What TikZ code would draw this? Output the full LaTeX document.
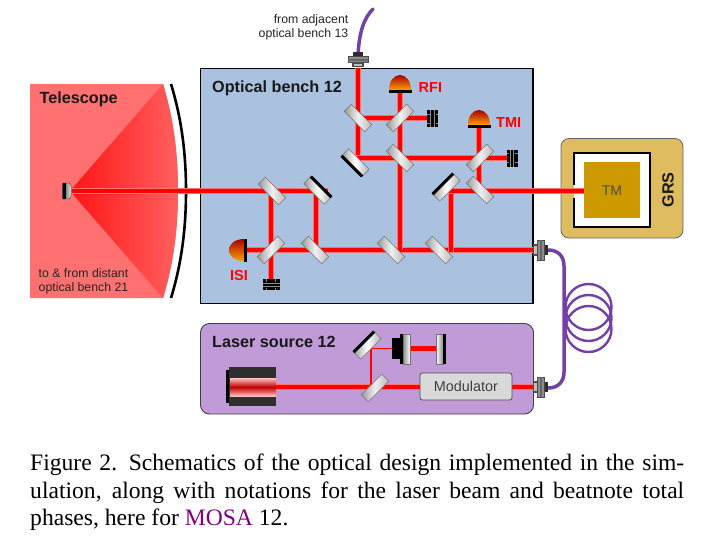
\documentclass[tikz,border=0pt]{standalone}
\usepackage{fontspec}
\setmainfont{Liberation Serif}
\setsansfont{Liberation Sans}
\definecolor{benchblue}{HTML}{ABC1E0}
\definecolor{laserpurple}{HTML}{C19BD8}
\definecolor{grsgold}{HTML}{E0BC60}
\definecolor{tmgold}{HTML}{CC9900}
\definecolor{fibre}{HTML}{7340A8}
\definecolor{telered}{HTML}{FF7070}
\definecolor{mosa}{HTML}{800080}
\definecolor{beamred}{HTML}{FF0000}
\tikzset{
  x=1pt,y=-1pt,
  beam/.style={preaction={draw=beamred!55!white,line width=5.2pt},draw=beamred,line width=4.2pt},
  thinbeam/.style={draw=beamred,line width=1.5pt},
  fib/.style={draw=fibre,line width=3.5pt,line cap=round},
  coil/.style={draw=fibre,line width=2.4pt},
  bench/.style={draw=black,line width=1.4pt},
  lbl/.style={font=\sffamily\fontsize{16.2}{19}\selectfont\bfseries,inner sep=0pt,text=black!90},
  redlbl/.style={font=\sffamily\fontsize{14.5}{17}\selectfont\bfseries,text=beamred,inner sep=0pt},
  smalllbl/.style={font=\sffamily\fontsize{12.3}{14}\selectfont,inner sep=0pt,text=black!85},
  capline/.style={font=\fontsize{23.6}{27}\selectfont,inner sep=0pt,anchor=base west,text=black},
  pics/bs/.style={code={
    \path[left color=black!40,right color=black!28,middle color=black!6,draw=black!55,line width=.5pt]
      (-14.5,-5) rectangle (14.5,5);
  }},
  pics/bsm/.style={code={
    \path[left color=black!40,right color=black!30,middle color=white,draw=black!55,line width=.5pt]
      (-14.5,-5) rectangle (14.5,5.5);
    \fill[black] (-14.5,-6) rectangle (14.5,-3);
  }},
  pics/diode/.style={code={
    \path[top color=red!65!black,bottom color=orange!75!yellow]
      (-11,0) .. controls (-11,-9) and (-6,-15) .. (0,-15) .. controls (6,-15) and (11,-9) .. (11,0) -- cycle;
    \fill[black] (-11.5,0) rectangle (11.5,2.6);
  }},
  pics/dump/.style={code={
    \fill[black] (-5.5,-8.5) rectangle (5.5,8.5);
    \draw[black!45,line width=.6pt] (-2,-8.5) -- (-2,8.5) (1.6,-8.5) -- (1.6,8.5);
    \draw[black!45,line width=.5pt] (-5.5,-4.5) -- (-3,-4.5) (-5.5,4.5) -- (-3,4.5) (3,-4.5) -- (5.5,-4.5) (3,4.5) -- (5.5,4.5);
  }},
  pics/conn/.style={code={
    \fill[black!70] (0,-6) rectangle (6,6);
    \fill[black!82] (10,-5) rectangle (15,5);
    \fill[black!45] (4.5,-10) rectangle (11,10);
    \draw[black!70,line width=.5pt] (4.5,-10) rectangle (11,10);
    \fill[black!60] (6.5,-10) rectangle (8.5,10);
    \fill[black!25] (1,-4) rectangle (3.5,4);
  }},
}
\begin{document}
\begin{tikzpicture}
\useasboundingbox (0,0) rectangle (716,555);
\fill[white] (0,0) rectangle (716,555);

% telescope
\path[fill=telered] (30,84) -- (163,84) .. controls (174,120) and (178,155) .. (178,191) .. controls (178,227) and (174,262) .. (163,298) -- (30,298) -- cycle;
\path[left color=red!82!telered,right color=telered!85!red] (70,191) -- (163,84) .. controls (174,120) and (178,155) .. (178,191) .. controls (178,227) and (174,262) .. (163,298) -- cycle;
\draw[black,line width=2.6pt] (171,84) .. controls (182,120) and (186,155) .. (186,191) .. controls (186,227) and (182,262) .. (171,298);
\node[lbl,anchor=west] (telelabel) at (39.5,99.5) {Telescope};
\node[smalllbl,anchor=west] (tele1) at (38.5,273) {to \& from distant};
\node[smalllbl,anchor=west] (tele2) at (38.5,288) {optical bench 21};

% boxes
\draw[bench,fill=benchblue] (200.5,68.5) rectangle (533,303.5);
\draw[rounded corners=9pt,fill=laserpurple,draw=black!75,line width=.9pt] (200.5,323.5) rectangle (533.5,414);
\draw[rounded corners=8pt,fill=grsgold,draw=black!60,line width=.8pt] (561,138.5) rectangle (683,238);

% beams on the bench
\draw[beam] (70,191) -- (328,191);
\draw[beam] (316,191) -- (316,250);
\draw[beam] (271,191) -- (271,282);
\draw[beam] (245,250) -- (533,250);
\draw[beam] (358,68) -- (358,158);
\draw[beam] (358,118) -- (428,118);
\draw[beam] (400,92) -- (400,250);
\draw[beam] (356,158) -- (508,158);
\draw[beam] (479,126) -- (479,191);
\draw[beam] (451,252) -- (451,191);
\draw[beam] (449,191) -- (533,191);

% optics on the bench
\pic[rotate=-45] at (272,191) {bs};
\pic[rotate=-45] at (318,190) {bsm};
\pic[rotate=45] at (271,250) {bs};
\pic[rotate=-45] at (315,250) {bs};
\pic[rotate=-45] at (391,250) {bs};
\pic[rotate=-45] at (439,250) {bs};
\pic[rotate=-45] at (358,118) {bs};
\pic[rotate=45] at (400,118) {bs};
\pic[rotate=135] at (355,163) {bsm};
\pic[rotate=-45] at (400,158) {bs};
\pic[rotate=45] at (480,158) {bs};
\pic[rotate=45] at (446,187) {bsm};
\pic[rotate=-45] at (480,190) {bs};

\pic[rotate=90] at (244,250) {diode};
\pic at (400,90) {diode};
\pic at (479,125) {diode};
\pic[rotate=90] at (271,284.5) {dump};
\pic at (432.5,118.5) {dump};
\pic at (512,158) {dump};
\node[redlbl,anchor=center] (isi) at (239,275.5) {ISI};
\node[redlbl,anchor=west] (rfi) at (418.5,88) {RFI};
\node[redlbl,anchor=west] (tmi) at (496,123) {TMI};
\node[lbl,anchor=west] (oblabel) at (212,88.5) {Optical bench 12};

% top fibre
\draw[fib] (358,56) .. controls (359,32) and (364,18) .. (373,9);
\pic[rotate=90] at (358,67) {conn};
\node[smalllbl,anchor=east] (top1) at (348.5,20) {from adjacent};
\node[smalllbl,anchor=east] (top2) at (348.5,34) {optical bench 13};

% GRS
\fill[white] (574,153) rectangle (650,227);
\draw[black,line width=2.4pt] (574,185) -- (574,153) -- (650,153) -- (650,227) -- (574,227) -- (574,198);
\draw[beam] (533,191) -- (585,191);
\fill[tmgold] (584,162) rectangle (640,218);
\node[font=\sffamily\fontsize{14}{16}\selectfont,text=black!70,inner sep=0pt] (tm) at (612,190.5) {TM};
\node[lbl,rotate=90] (grs) at (668,190) {GRS};

% laser source
\node[lbl,anchor=west] (lslabel) at (212,342) {Laser source 12};
\fill[black] (226,370) rectangle (232,403);
\fill[black!82] (229,367) rectangle (276,406);
\shade[top color=white!75!red,bottom color=red!75!black] (230,378) rectangle (276,387);
\shade[top color=red!75!black,bottom color=white!75!red] (230,387) rectangle (276,396);
\draw[beam] (276,387) -- (533,387);
\draw[thinbeam] (371,387) -- (371,348.5) -- (394,348.5);
\draw[beam] (408,348.5) -- (438,348.5);
\pic[rotate=45] at (375,388) {bs};
\pic[rotate=45] at (367,345) {bsm};
\fill[black] (392,338) rectangle (403,359);
\fill[black] (400,334) rectangle (404,364);
\path[left color=black!45,right color=white,draw=black!55,line width=.4pt] (403,334) rectangle (410,364);
\path[left color=white,right color=black!45,draw=black!55,line width=.4pt] (436,334) rectangle (443,364);
\fill[black] (443,334) rectangle (446,364);
\node[draw=black!70,fill=black!15,rounded corners=2.5pt,line width=.8pt,minimum width=92pt,minimum height=27pt,inner sep=0pt,font=\sffamily\fontsize{14.4}{16}\selectfont,text=black!75] (mod) at (466,386.5) {Modulator};

% right fibre
\draw[coil] (588.5,307) circle[radius=23];
\draw[coil] (588.5,318) circle[radius=23];
\draw[coil] (588.5,329) circle[radius=23];
\draw[fib] (548,250) .. controls (558,250) and (564,256) .. (564,266) -- (564,372) .. controls (564,382) and (558,388) .. (548,388);
\pic at (533,250) {conn};
\pic at (533,387) {conn};

% telescope mirror
\path[left color=black!70,right color=white,draw=black!70,line width=.4pt] (62.5,183) -- (69,183) .. controls (72.5,185) and (72.5,197) .. (69,199) -- (62.5,199) -- cycle;
\fill[black] (62.5,183) rectangle (65.5,199);

% caption
\node[capline] (c1) at (30,470) {\makebox[654pt][s]{Figure 2.\hspace{4pt}\ Schematics of the optical design implemented in the sim-}};
\node[capline] (c2) at (30,498) {\makebox[654pt][s]{ulation, along with notations for the laser beam and beatnote total}};
\node[capline] (c3) at (30,525) {phases, here for \textcolor{mosa}{MOSA} 12.};
\end{tikzpicture}
\end{document}
